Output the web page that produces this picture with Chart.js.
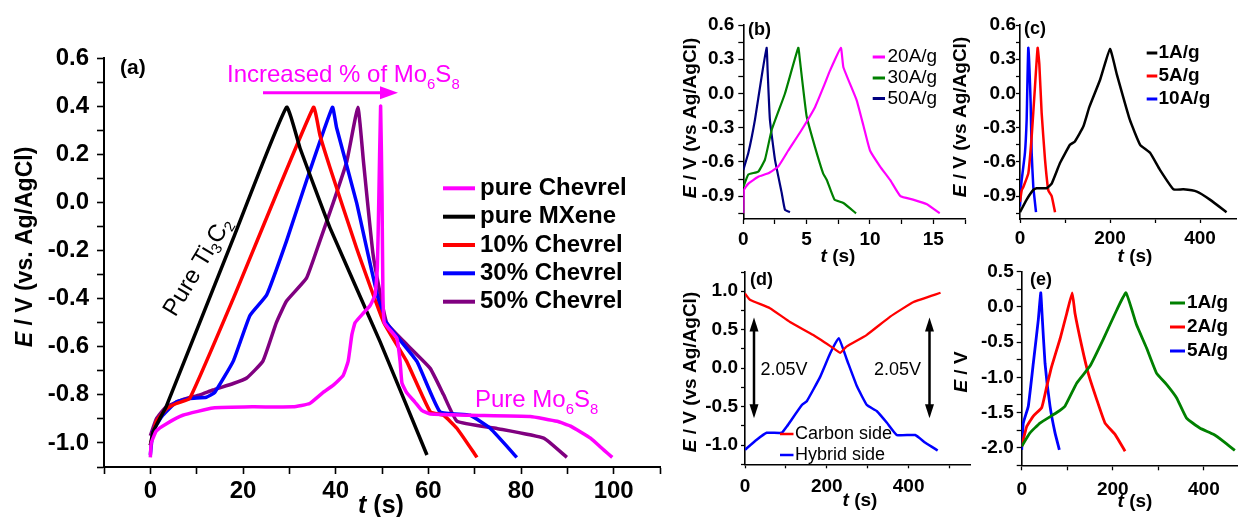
<!DOCTYPE html>
<html>
<head>
<meta charset="utf-8">
<script src="https://cdn.jsdelivr.net/npm/chart.js@4.4.0/dist/chart.umd.min.js"></script>
<style>
html, body { margin: 0; padding: 0; background: #fff; }
#wrap { position: relative; width: 1238px; height: 517px; overflow: hidden; }
#wrap canvas { position: absolute; left: 0; top: 0; }
</style>
</head>
<body>
<div id="wrap">
<canvas id="pa" width="1238" height="517"></canvas>
<canvas id="pb" width="1238" height="517"></canvas>
<canvas id="pc" width="1238" height="517"></canvas>
<canvas id="pd" width="1238" height="517"></canvas>
<canvas id="pe" width="1238" height="517"></canvas>
</div>
<script>
// ---- panel (a): GCD curves of the composites, t in s, E in V vs Ag/AgCl
var aChevT = [0, 0.2, 1.3, 3.5, 7, 13.5, 22, 30.8, 34.4, 37.3, 39.5, 41.6, 42.7, 43.5, 44.2, 46, 47.4, 48.5, 49, 49.3, 49.7, 50, 50.2, 50.5, 53.2, 53.9, 54.3, 55.3, 57.1, 58.6, 60.4, 69, 82, 87.8, 90.7, 95, 97.9, 99.7];
var aChevE = [-1.06, -1.0, -0.95, -0.92, -0.885, -0.855, -0.85, -0.85, -0.836, -0.79, -0.76, -0.72, -0.66, -0.55, -0.5, -0.46, -0.43, -0.385, -0.27, 0.0, 0.4, 0.03, -0.38, -0.5, -0.565, -0.66, -0.75, -0.79, -0.83, -0.865, -0.88, -0.885, -0.89, -0.91, -0.93, -0.98, -1.03, -1.06];
var aMxT = [0, 0.6, 2, 3.4, 17.9, 29.4, 32.3, 38.8, 49.6, 59.7];
var aMxE = [-1.01, -0.954, -0.9, -0.85, -0.15, 0.395, 0.226, -0.107, -0.58, -1.05];
var a10T = [0, 1.3, 3.4, 5.6, 8.5, 17.9, 35.2, 36.6, 38.8, 44.5, 50.3, 55.3, 60.4, 63.3, 66.2, 70.5];
var a10E = [-1.01, -0.91, -0.86, -0.836, -0.815, -0.4, 0.395, 0.28, 0.143, -0.19, -0.496, -0.66, -0.87, -0.885, -0.94, -1.06];
var a30T = [0, 0.6, 2.7, 5.6, 8.5, 12.1, 13.9, 17.9, 21.5, 25.1, 29.4, 33.7, 39.3, 40.2, 44.5, 50.3, 57.5, 62.5, 69, 73.4, 79.1];
var a30E = [-1.05, -0.95, -0.885, -0.83, -0.815, -0.81, -0.79, -0.66, -0.47, -0.385, -0.16, 0.09, 0.395, 0.31, 0.0, -0.48, -0.66, -0.87, -0.885, -0.94, -1.06];
var a50T = [0, 1.3, 3.4, 7, 10.7, 13.5, 17.9, 20.8, 24.3, 27.2, 29.4, 33.7, 36.6, 39.5, 42.4, 44.8, 46, 48.1, 51, 55.3, 60.4, 63.3, 66.2, 74.8, 84.9, 89.9];
var a50E = [-0.97, -0.9, -0.85, -0.82, -0.8, -0.78, -0.753, -0.73, -0.66, -0.5, -0.41, -0.315, -0.16, 0.0, 0.17, 0.395, 0.17, -0.22, -0.5, -0.59, -0.69, -0.8, -0.91, -0.94, -0.98, -1.06];
var aLabels = ['pure Chevrel', 'pure MXene', '10% Chevrel', '30% Chevrel', '50% Chevrel'];
var aXMajor = [0, 20, 40, 60, 80, 100];
var aXMinor = [-10, 10, 30, 50, 70, 90, 110];
var aYMajor = [-1.0, -0.8, -0.6, -0.4, -0.2, 0.0, 0.2, 0.4, 0.6];
var aYMinor = [-1.1, -0.9, -0.7, -0.5, -0.3, -0.1, 0.1, 0.3, 0.5];

// ---- panel (b): high current densities
var b20T = [0, 0.05, 0.4, 1.18, 1.97, 2.76, 3.55, 4.6, 5.66, 6.45, 6.84, 7.7, 7.9, 8.95, 9.5, 10, 10.8, 11.6, 12.4, 13.4, 14.5, 15.5];
var b20E = [-1.05, -0.845, -0.79, -0.73, -0.70, -0.64, -0.50, -0.32, -0.12, 0.09, 0.2, 0.4, 0.23, -0.06, -0.29, -0.5, -0.64, -0.76, -0.9, -0.93, -0.97, -1.05];
var b30T = [0, 0.4, 1.18, 1.71, 2.24, 3.29, 4.34, 4.47, 5.0, 5.66, 6.3, 6.6, 7.2, 7.9, 8.9];
var b30E = [-0.82, -0.71, -0.685, -0.58, -0.32, 0.0, 0.4, 0.29, -0.2, -0.47, -0.7, -0.76, -0.93, -0.96, -1.05];
var b50T = [0, 0.4, 0.92, 1.45, 1.84, 1.92, 2.1, 2.5, 3.03, 3.29, 3.68];
var b50E = [-0.67, -0.52, -0.23, 0.15, 0.4, 0.2, -0.23, -0.58, -0.87, -1.02, -1.04];
var bLabels = ['20A/g', '30A/g', '50A/g'];
var bXMajor = [0, 5, 10, 15];
var bXMinor = [2.5, 7.5, 12.5, 17.5];
var bYMajor = [-0.9, -0.6, -0.3, 0.0, 0.3, 0.6];
var bYMinor = [-1.05, -0.75, -0.45, -0.15, 0.15, 0.45];

// ---- panel (c): low current densities
var c1T = [0, 14.8, 29.6, 37, 59, 70.4, 88.9, 111, 122, 140.7, 154, 178, 200, 215, 244, 267, 289, 311, 341, 363, 393, 422, 459];
var c1E = [-1.04, -0.93, -0.845, -0.83, -0.83, -0.79, -0.61, -0.45, -0.42, -0.29, -0.12, 0.12, 0.39, 0.17, -0.23, -0.45, -0.52, -0.67, -0.84, -0.84, -0.86, -0.93, -1.04];
var c5T = [0, 3.7, 7.4, 18.5, 25.9, 33.3, 39.2, 42.9, 48.1, 55.6, 63, 70.4, 77.8];
var c5E = [-0.95, -0.85, -0.82, -0.7, -0.38, 0.06, 0.4, 0.26, -0.17, -0.58, -0.85, -0.9, -1.04];
var c10T = [0, 2.2, 3.7, 11, 14.8, 16.3, 18.5, 23.7, 25.9, 29.6, 35.6];
var c10E = [-0.99, -0.82, -0.76, -0.52, -0.23, 0.06, 0.4, -0.09, -0.52, -0.82, -1.04];
var cLabels = ['1A/g', '5A/g', '10A/g'];
var cXMajor = [0, 200, 400];
var cXMinor = [100, 300];

// ---- panel (d): two electrodes of the hybrid cell
var dCarbT = [0, 12, 61, 110, 167, 216, 233, 248, 297, 355, 412, 478];
var dCarbE = [0.97, 0.89, 0.78, 0.6, 0.43, 0.26, 0.2, 0.28, 0.43, 0.67, 0.86, 0.98];
var dHybT = [0, 28.6, 53, 90, 102, 139, 151, 184, 208, 229, 249, 274, 298, 322.5, 347, 371.5, 416, 441, 471];
var dHybE = [-1.06, -0.93, -0.84, -0.84, -0.76, -0.48, -0.43, -0.11, 0.19, 0.39, 0.11, -0.24, -0.48, -0.56, -0.71, -0.87, -0.87, -0.97, -1.07];
var dLabels = ['Carbon side', 'Hybrid side'];
var dArrowT = [22, 451];
var dArrowE = [0.66, -0.65];
var dXMajor = [0, 200, 400];
var dXMinor = [100, 300, 500];
var dYMajor = [-1.0, -0.5, 0.0, 0.5, 1.0];
var dYMinor = [-1.25, -0.75, -0.25, 0.25, 0.75, 1.25];

// ---- panel (e): full cell
var e1T = [0, 18.2, 40.2, 77, 95, 121, 150, 179, 209, 229, 252, 274, 296, 318, 340, 362, 391, 421, 443, 468];
var e1E = [-1.98, -1.79, -1.65, -1.5, -1.41, -1.08, -0.84, -0.46, -0.04, 0.2, -0.25, -0.58, -0.94, -1.1, -1.29, -1.58, -1.72, -1.81, -1.91, -2.04];
var e2T = [0, 11, 25.5, 44, 55, 66, 84, 99, 111, 117, 132, 146, 165, 183, 205, 227];
var e2E = [-1.98, -1.7, -1.55, -1.43, -1.13, -0.84, -0.46, -0.09, 0.2, -0.09, -0.56, -0.94, -1.32, -1.65, -1.81, -2.05];
var e5T = [0, 3.5, 14.5, 25.5, 36.5, 41.8, 44.6, 51.2, 62.2, 73.2, 82.7];
var e5E = [-2.03, -1.65, -1.41, -0.8, -0.18, 0.2, -0.09, -0.8, -1.41, -1.79, -2.03];
var eLabels = ['1A/g', '2A/g', '5A/g'];
var eXMajor = [0, 200, 400];
var eXMinor = [100, 300];
var eYMajor = [-2.0, -1.5, -1.0, -0.5, 0.0, 0.5];
var eYMinor = [-2.25, -1.75, -1.25, -0.75, -0.25, 0.25];

var FONT = '"Liberation Sans", Arial, Helvetica, sans-serif';
var W = 1238, H = 517;
var Y_W = 60, X_H = 40; // fixed axis box sizes

function pts(ts, es) {
    return ts.map(function (t, i) { return {x: t, y: es[i]}; });
}

function series(label, ts, es, color, width) {
    return {
        label: label, data: pts(ts, es),
        borderColor: color, backgroundColor: color, borderWidth: width,
        pointRadius: 0, fill: false, tension: 0.12, borderJoinStyle: 'round'
    };
}

function axis(min, max, major, minor, o) {
    var all = major.concat(minor).sort(function (a, b) { return a - b; });
    function isMajor(v) {
        return major.some(function (m) { return Math.abs(m - v) < 1e-9; });
    }
    return {
        type: 'linear', min: min, max: max,
        afterBuildTicks: function (s) { s.ticks = all.map(function (v) { return {value: v}; }); },
        afterFit: function (s) { if (s.isHorizontal()) { s.height = X_H; } else { s.width = Y_W; } },
        border: {display: true, color: '#000', width: o.bw},
        grid: {display: true, drawOnChartArea: false, drawTicks: true, tickLength: o.tl,
               tickColor: '#000', tickWidth: o.bw * 0.8},
        ticks: {
            autoSkip: false, maxRotation: 0, padding: o.pad, color: '#000',
            font: {family: FONT, size: o.fs, weight: 'bold'},
            callback: function (v) { return isMajor(v) ? (o.dec ? v.toFixed(o.dec) : String(v)) : ''; }
        }
    };
}

function drawRich(ctx, t) {
    var size = t.size, wt = t.weight || 'normal';
    function font(p) {
        var s = p[1] === '_' ? size * 0.62 : size;
        return (p[1] === 'i' ? 'italic ' : '') + wt + ' ' + s + 'px ' + FONT;
    }
    ctx.save();
    var total = 0;
    t.parts.forEach(function (p) { ctx.font = font(p); total += ctx.measureText(p[0]).width; });
    ctx.translate(t.x, t.y);
    if (t.rot) ctx.rotate(t.rot * Math.PI / 180);
    var x = t.align === 'center' ? -total / 2 : (t.align === 'right' ? -total : 0);
    ctx.fillStyle = t.color || '#000';
    ctx.textBaseline = t.base || 'alphabetic';
    ctx.textAlign = 'left';
    t.parts.forEach(function (p) {
        ctx.font = font(p);
        ctx.fillText(p[0], x, p[1] === '_' ? size * 0.3 : 0);
        x += ctx.measureText(p[0]).width;
    });
    ctx.restore();
}

function drawArrow(ctx, x1, y1, x2, y2, a) {
    var ang = Math.atan2(y2 - y1, x2 - x1);
    var c = Math.cos(ang), s = Math.sin(ang);
    ctx.save();
    ctx.strokeStyle = a.color; ctx.fillStyle = a.color; ctx.lineWidth = a.lw;
    var sx = a.both ? x1 + c * a.hl * 0.8 : x1, sy = a.both ? y1 + s * a.hl * 0.8 : y1;
    ctx.beginPath();
    ctx.moveTo(sx, sy);
    ctx.lineTo(x2 - c * a.hl * 0.8, y2 - s * a.hl * 0.8);
    ctx.stroke();
    function head(hx, hy, dc, ds) {
        ctx.beginPath();
        ctx.moveTo(hx, hy);
        ctx.lineTo(hx - dc * a.hl - ds * a.hw, hy - ds * a.hl + dc * a.hw);
        ctx.lineTo(hx - dc * a.hl + ds * a.hw, hy - ds * a.hl - dc * a.hw);
        ctx.closePath();
        ctx.fill();
    }
    head(x2, y2, c, s);
    if (a.both) head(x1, y1, -c, -s);
    ctx.restore();
}

function extrasPlugin(ex) {
    return {
        id: 'extras',
        afterDraw: function (chart) {
            var ctx = chart.ctx;
            (ex.texts || []).forEach(function (t) { drawRich(ctx, t); });
            if (ex.legend) {
                var L = ex.legend;
                chart.data.datasets.forEach(function (ds, i) {
                    var y = L.rows[i];
                    ctx.save();
                    ctx.strokeStyle = ds.borderColor; ctx.lineWidth = L.lw;
                    ctx.beginPath(); ctx.moveTo(L.x1, y); ctx.lineTo(L.x2, y); ctx.stroke();
                    ctx.restore();
                    drawRich(ctx, {parts: [[ds.label, '']], x: L.tx, y: y, size: L.size,
                                   weight: L.weight, base: 'middle', color: '#000'});
                });
            }
            (ex.arrows || []).forEach(function (a) {
                var p = a.p;
                if (a.data) {
                    var sx = chart.scales.x, sy = chart.scales.y;
                    p = [sx.getPixelForValue(p[0]), sy.getPixelForValue(p[1]),
                         sx.getPixelForValue(p[2]), sy.getPixelForValue(p[3])];
                }
                drawArrow(ctx, p[0], p[1], p[2], p[3], a);
            });
        }
    };
}

function panel(id, area, xAx, yAx, datasets, ex) {
    return new Chart(document.getElementById(id), {
        type: 'line',
        data: {datasets: datasets},
        options: {
            responsive: false, animation: false, devicePixelRatio: 1, events: [],
            layout: {padding: {left: area.l - Y_W, right: W - area.r, top: area.t, bottom: H - area.b - X_H}},
            scales: {x: xAx, y: yAx},
            plugins: {legend: {display: false}, tooltip: {enabled: false}}
        },
        plugins: [extrasPlugin(ex)]
    });
}

function yTitle(text, x, y, size) {
    return {parts: [['E', 'i'], [text, '']], x: x, y: y, size: size, weight: 'bold', rot: -90, align: 'center', base: 'middle'};
}
function xTitle(x, y, size) {
    return {parts: [['t', 'i'], [' (s)', '']], x: x, y: y, size: size, weight: 'bold', align: 'center'};
}
function tag(text, x, y) {
    return {parts: [[text, '']], x: x, y: y, size: 18, weight: 'bold'};
}

var MAG = '#ff00ff';

// (a)
panel('pa', {l: 104, t: 58, r: 660, b: 467},
    axis(-10, 110, aXMajor, aXMinor, {bw: 2, tl: 7, pad: 3, fs: 24}),
    axis(-1.1, 0.6, aYMajor, aYMinor, {bw: 2, tl: 7, pad: 8, fs: 24, dec: 1}),
    [series(aLabels[0], aChevT, aChevE, MAG, 3.5),
     series(aLabels[1], aMxT, aMxE, '#000000', 3.5),
     series(aLabels[2], a10T, a10E, '#ff0000', 3.5),
     series(aLabels[3], a30T, a30E, '#0000ff', 3.5),
     series(aLabels[4], a50T, a50E, '#800080', 3.5)],
    {
        texts: [
            {parts: [['(a)', '']], x: 120, y: 74, size: 21, weight: 'bold'},
            {parts: [['Increased % of Mo', ''], ['6', '_'], ['S', ''], ['8', '_']], x: 227, y: 82, size: 24, color: MAG},
            {parts: [['Pure Ti', ''], ['3', '_'], ['C', ''], ['2', '_']], x: 198, y: 267, size: 24, rot: -59, align: 'center', base: 'middle'},
            {parts: [['Pure Mo', ''], ['6', '_'], ['S', ''], ['8', '_']], x: 475, y: 407, size: 24, color: MAG},
            yTitle(' / V (vs. Ag/AgCl)', 26, 247, 23),
            xTitle(381, 513, 25)
        ],
        legend: {x1: 443, x2: 475, tx: 480, rows: [188.3, 216.7, 245, 273.3, 301.7], lw: 4, size: 24, weight: 'bold'},
        arrows: [{p: [263, 92.7, 398, 92.7], lw: 3, hl: 18, hw: 6.5, color: MAG}]
    });

// (b)
panel('pb', {l: 743.3, t: 25, r: 965, b: 219},
    axis(0, 17.5, bXMajor, bXMinor, {bw: 1.6, tl: 5, pad: 4, fs: 19}),
    axis(-1.1, 0.6, bYMajor, bYMinor, {bw: 1.6, tl: 5, pad: 4, fs: 19, dec: 1}),
    [series(bLabels[0], b20T, b20E, MAG, 2.2),
     series(bLabels[1], b30T, b30E, '#008000', 2.2),
     series(bLabels[2], b50T, b50E, '#000080', 2.2)],
    {
        texts: [tag('(b)', 748, 35), yTitle(' / V (vs Ag/AgCl)', 691, 118, 19), xTitle(838, 262, 19)],
        legend: {x1: 872.7, x2: 885, tx: 887.5, rows: [57, 78, 98.5], lw: 3, size: 19, weight: 'normal'}
    });

// (c)
panel('pc', {l: 1020, t: 25, r: 1236, b: 219},
    axis(0, 480, cXMajor, cXMinor, {bw: 1.6, tl: 4, pad: 4, fs: 19}),
    axis(-1.1, 0.6, bYMajor, bYMinor, {bw: 1.6, tl: 4, pad: 0, fs: 19, dec: 1}),
    [series(cLabels[0], c1T, c1E, '#000000', 2.5),
     series(cLabels[1], c5T, c5E, '#ff0000', 2.5),
     series(cLabels[2], c10T, c10E, '#0000ff', 2.5)],
    {
        texts: [tag('(c)', 1024, 34), yTitle(' / V (vs Ag/AgCl)', 961, 117, 19), xTitle(1135, 262, 19)],
        legend: {x1: 1146.7, x2: 1157.3, tx: 1158.5, rows: [53, 76, 99], lw: 3, size: 19, weight: 'bold'}
    });

// (d)
panel('pd', {l: 745, t: 272, r: 970, b: 464.3},
    axis(0, 550, dXMajor, dXMinor, {bw: 1.6, tl: 4, pad: 7, fs: 19}),
    axis(-1.25, 1.25, dYMajor, dYMinor, {bw: 1.6, tl: 4, pad: 3, fs: 19, dec: 1}),
    [series(dLabels[0], dCarbT, dCarbE, '#ff0000', 2.3),
     series(dLabels[1], dHybT, dHybE, '#0000ff', 2.5)],
    {
        texts: [tag('(d)', 750, 285), yTitle(' / V (vs Ag/AgCl)', 691, 372, 19), xTitle(860, 506, 19),
                {parts: [['2.05V', '']], x: 784, y: 370.5, size: 18, align: 'center', base: 'middle'},
                {parts: [['2.05V', '']], x: 897.5, y: 370.5, size: 18, align: 'center', base: 'middle'}],
        legend: {x1: 780, x2: 793.5, tx: 795, rows: [434, 455], lw: 2.5, size: 18, weight: 'normal'},
        arrows: [
            {data: true, p: [dArrowT[0], dArrowE[0], dArrowT[0], dArrowE[1]], lw: 2.5, hl: 14, hw: 4.5, color: '#000', both: true},
            {data: true, p: [dArrowT[1], dArrowE[0], dArrowT[1], dArrowE[1]], lw: 2.5, hl: 14, hw: 4.5, color: '#000', both: true}
        ]
    });

// (e)
panel('pe', {l: 1021.7, t: 271.7, r: 1238, b: 465.3},
    axis(0, 475, eXMajor, eXMinor, {bw: 1.6, tl: 5, pad: 8, fs: 19}),
    axis(-2.25, 0.5, eYMajor, eYMinor, {bw: 1.6, tl: 5, pad: 3, fs: 19, dec: 1}),
    [series(eLabels[0], e1T, e1E, '#008000', 2.8),
     series(eLabels[1], e2T, e2E, '#ff0000', 2.8),
     series(eLabels[2], e5T, e5E, '#0000ff', 2.8)],
    {
        texts: [tag('(e)', 1030, 285), yTitle(' / V', 962, 372, 19), xTitle(1135, 507, 19)],
        legend: {x1: 1170, x2: 1185, tx: 1187, rows: [303, 327, 351], lw: 3, size: 19, weight: 'bold'}
    });
</script>
</body>
</html>
